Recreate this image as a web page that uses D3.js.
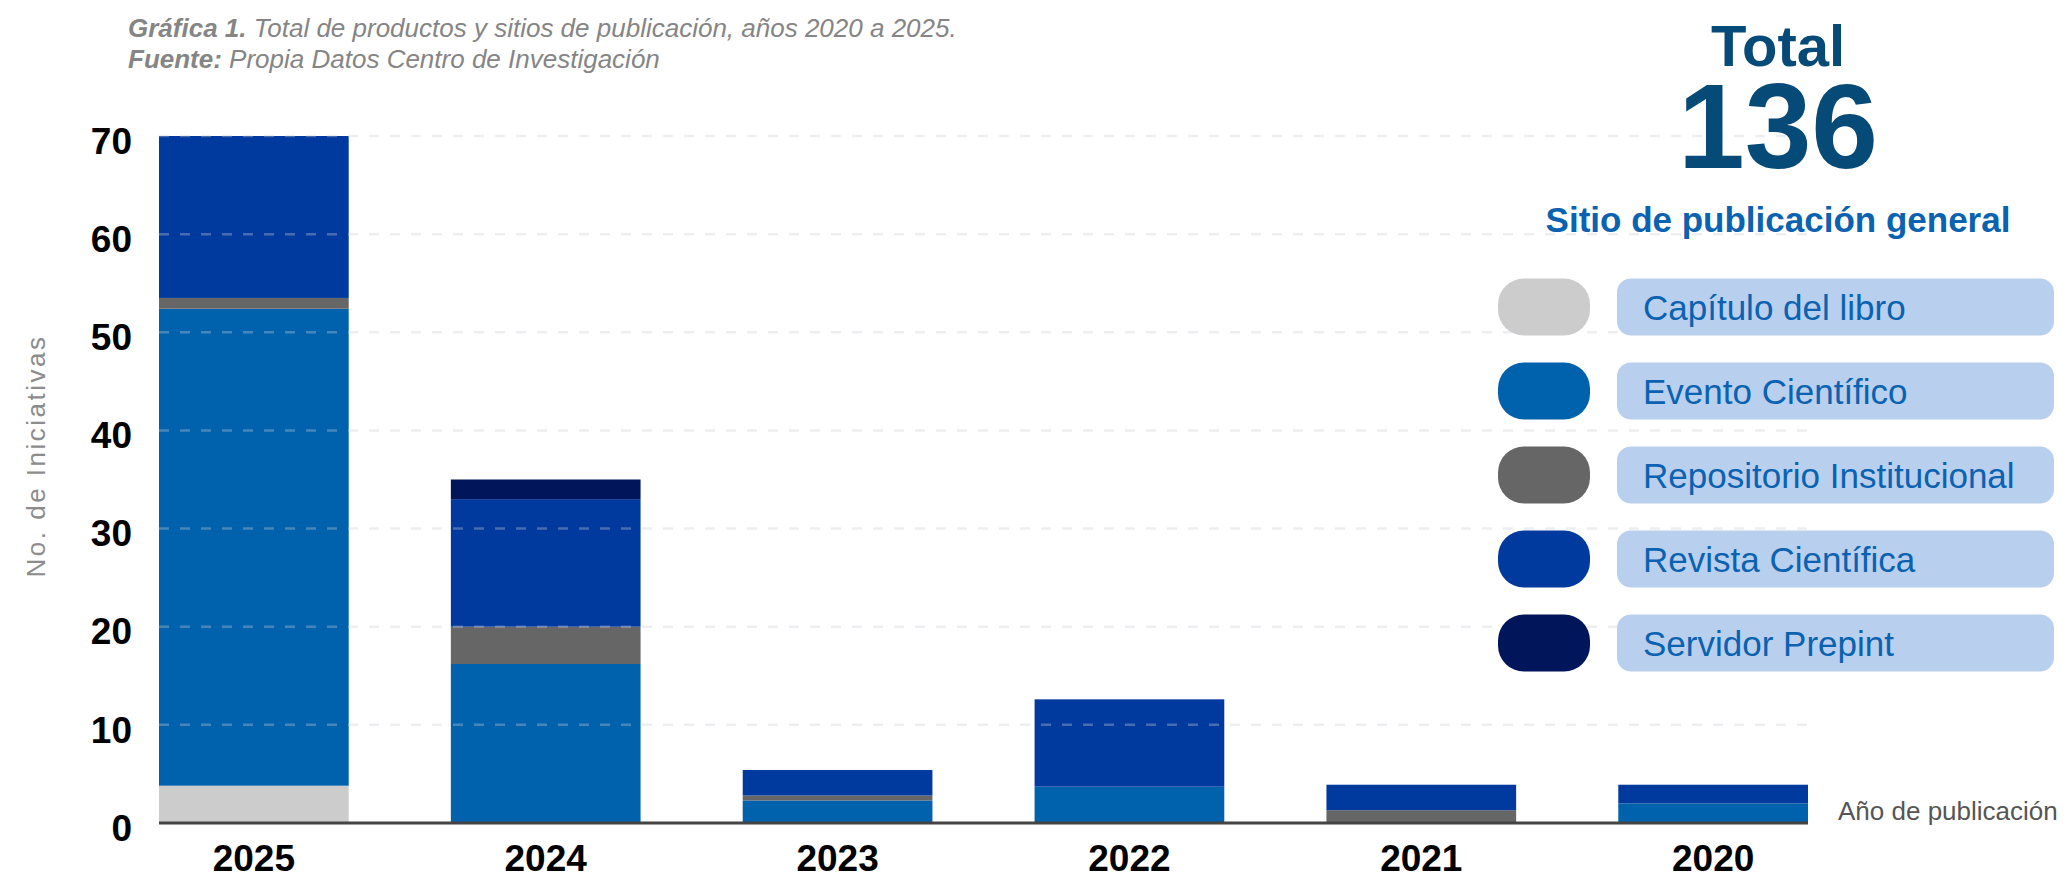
<!DOCTYPE html>
<html>
<head>
<meta charset="utf-8">
<script src="https://cdn.jsdelivr.net/npm/d3@7"></script>
<style>
  html, body { margin: 0; padding: 0; background: #fff; }
  svg text { font-family: "Liberation Sans", Arial, Helvetica, sans-serif; }
</style>
</head>
<body>
<svg id="chart" width="2065" height="873"></svg>
<script>
// años y sitios de publicación
const years = ["2025", "2024", "2023", "2022", "2021", "2020"];
const sitios = ["Capítulo del libro", "Evento Científico", "Repositorio Institucional", "Revista Científica", "Servidor Prepint"];
const colores = ["#cccccc", "#0061ad", "#666666", "#003a9e", "#00155a"];

// valores por sitio (mismo orden que years)
const capitulo    = [3.8, 0, 0, 0, 0, 0];
const evento      = [48.6, 16.2, 2.3, 3.7, 0, 2.0];
const repositorio = [1.1, 3.8, 0.5, 0, 1.3, 0];
const revista     = [16.5, 13.0, 2.6, 8.9, 2.6, 1.9];
const servidor    = [0, 2.0, 0, 0, 0, 0];

const yTicks = [0, 10, 20, 30, 40, 50, 60, 70];
const total = 136;

const series = [capitulo, evento, repositorio, revista, servidor];
const table = years.map((y, i) => {
  const row = {year: y};
  sitios.forEach((s, j) => row[s] = series[j][i]);
  return row;
});

const svg = d3.select("#chart");

const x = d3.scaleBand()
    .domain(years)
    .range([159, 1808])
    .paddingInner(0.35)
    .paddingOuter(0);

const y = d3.scaleLinear()
    .domain([0, 70])
    .range([823, 136]);

const color = d3.scaleOrdinal().domain(sitios).range(colores);

const stacked = d3.stack().keys(sitios)(table);

// barras apiladas
svg.append("g")
  .selectAll("g")
  .data(stacked).join("g")
    .attr("fill", d => color(d.key))
  .selectAll("rect")
  .data(d => d).join("rect")
    .attr("x", d => x(d.data.year))
    .attr("y", d => y(d[1]))
    .attr("width", x.bandwidth())
    .attr("height", d => y(d[0]) - y(d[1]));

// rejilla punteada (encima de las barras, semitransparente)
svg.append("g")
  .selectAll("line")
  .data(yTicks.filter(d => d > 0)).join("line")
    .attr("x1", x.range()[0])
    .attr("x2", x.range()[1])
    .attr("y1", d => y(d))
    .attr("y2", d => y(d))
    .attr("stroke", "#c8ced8")
    .attr("stroke-opacity", 0.35)
    .attr("stroke-width", 2.5)
    .attr("stroke-dasharray", "10,11");

// línea base
svg.append("line")
    .attr("x1", x.range()[0])
    .attr("x2", x.range()[1])
    .attr("y1", y(0))
    .attr("y2", y(0))
    .attr("stroke", "#444")
    .attr("stroke-width", 3);

// etiquetas eje y
svg.append("g")
  .selectAll("text")
  .data(yTicks).join("text")
    .attr("x", 132)
    .attr("y", d => y(d))
    .attr("dy", "0.48em")
    .attr("text-anchor", "end")
    .attr("font-size", 37)
    .attr("font-weight", "bold")
    .attr("fill", "#000")
    .text(d => d);

// etiquetas eje x
svg.append("g")
  .selectAll("text")
  .data(years).join("text")
    .attr("x", d => x(d) + x.bandwidth() / 2)
    .attr("y", 871)
    .attr("text-anchor", "middle")
    .attr("font-size", 37)
    .attr("font-weight", "bold")
    .attr("fill", "#000")
    .text(d => d);

// títulos de ejes
svg.append("text")
    .attr("transform", "translate(45,456) rotate(-90)")
    .attr("text-anchor", "middle")
    .attr("font-size", 26)
    .attr("letter-spacing", 2.5)
    .attr("fill", "#8c8c8c")
    .text("No. de Iniciativas");

svg.append("text")
    .attr("x", 1838)
    .attr("y", 820)
    .attr("font-size", 26)
    .attr("fill", "#555")
    .text("Año de publicación");

// título y fuente
const t1 = svg.append("text").attr("x", 128).attr("y", 37)
    .attr("font-size", 26).attr("font-style", "italic").attr("fill", "#858585");
t1.append("tspan").attr("font-weight", "bold").text("Gráfica 1.");
t1.append("tspan").text(" Total de productos y sitios de publicación, años 2020 a 2025.");

const t2 = svg.append("text").attr("x", 128).attr("y", 68)
    .attr("font-size", 26).attr("font-style", "italic").attr("fill", "#858585");
t2.append("tspan").attr("font-weight", "bold").text("Fuente:");
t2.append("tspan").text(" Propia Datos Centro de Investigación");

// total
svg.append("text")
    .attr("x", 1778).attr("y", 66)
    .attr("text-anchor", "middle")
    .attr("font-size", 58).attr("font-weight", "bold")
    .attr("fill", "#064a78")
    .text("Total");

svg.append("text")
    .attr("x", 1778).attr("y", 168)
    .attr("text-anchor", "middle")
    .attr("font-size", 120).attr("font-weight", "bold")
    .attr("fill", "#064a78")
    .text(total);

svg.append("text")
    .attr("x", 1778).attr("y", 232)
    .attr("text-anchor", "middle")
    .attr("font-size", 35).attr("font-weight", "bold")
    .attr("fill", "#0a62b0")
    .text("Sitio de publicación general");

// leyenda
const legend = svg.append("g")
  .selectAll("g")
  .data(sitios).join("g")
    .attr("transform", (d, i) => "translate(0," + (307 + i * 84) + ")");

legend.append("rect")
    .attr("x", 1498).attr("y", -28.5)
    .attr("width", 92).attr("height", 57)
    .attr("rx", 26)
    .attr("fill", d => color(d));

legend.append("rect")
    .attr("x", 1617).attr("y", -28.5)
    .attr("width", 437).attr("height", 57)
    .attr("rx", 14)
    .attr("fill", "#b9cfee");

legend.append("text")
    .attr("x", 1643).attr("y", 12.5)
    .attr("font-size", 35)
    .attr("fill", "#0a62b0")
    .text(d => d);
</script>
</body>
</html>
